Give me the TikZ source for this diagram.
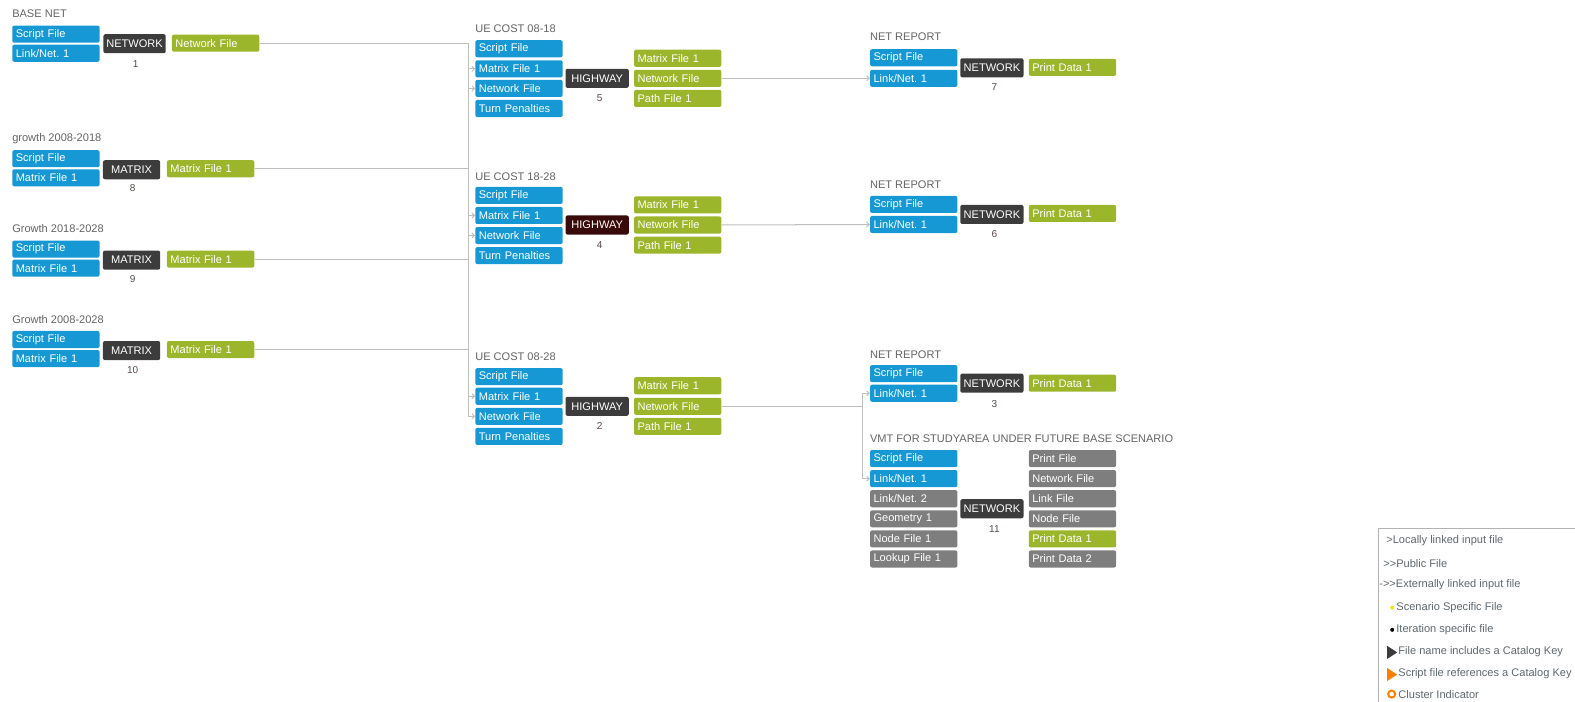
\documentclass[tikz,border=0pt]{standalone}
\usepackage{fontspec}
\setmainfont{Liberation Sans}
\usetikzlibrary{arrows.meta}

\definecolor{fileblue}{RGB}{22,152,212}
\definecolor{filegreen}{RGB}{156,182,44}
\definecolor{filegray}{RGB}{126,126,126}
\definecolor{progdark}{RGB}{60,60,60}
\definecolor{progred}{RGB}{58,10,10}
\definecolor{titlegray}{RGB}{100,100,100}
\definecolor{wiregray}{RGB}{190,190,190}
\definecolor{numcol}{RGB}{90,72,72}
\definecolor{legendtxt}{RGB}{95,104,110}

\tikzset{
  filebox/.style={anchor=west, text=white, font=\fontsize{11}{12}\selectfont,
    rounded corners=2pt, text width=80pt, inner xsep=3.5pt, inner ysep=0pt,
    minimum height=17pt, align=left},
  infile/.style={filebox, fill=fileblue},
  outfile/.style={filebox, fill=filegreen},
  idlefile/.style={filebox, fill=filegray},
  prog/.style={fill=progdark, text=white, font=\fontsize{11}{12}\selectfont,
    rounded corners=2pt, minimum height=19pt, inner xsep=1pt, inner ysep=0pt},
  grouptitle/.style={anchor=west, inner sep=0pt, text=titlegray, font=\fontsize{11}{12}\selectfont},
  runno/.style={inner sep=0pt, text=numcol, font=\fontsize{10}{11}\selectfont},
  wire/.style={wiregray, line width=1pt},
  feed/.style={wire, -{Straight Barb[length=2.5pt,width=5pt]}},
  legendtext/.style={anchor=west, inner sep=0pt, text=legendtxt, font=\fontsize{11}{12}\selectfont},
}

\begin{document}
\frenchspacing
\begin{tikzpicture}[x=1pt, y=-1pt]
    \useasboundingbox (0,0) rectangle (1568,698);
    \clip (0,0) rectangle (1568,698);

    % BASE NET
    \node[grouptitle] (bnT) at (12,14) {BASE NET};
    \node[infile] (bnS) at (12,34) {Script File};
    \node[infile] (bnL) at (12,53) {Link/Net. 1};
    \node[prog, minimum width=62pt] (bnP) at (134,43.5) {NETWORK};
    \node[runno] (bnN) at (135,64) {1};
    \node[outfile] (bnO) at (171,43) {Network File};

    % growth 2008-2018
    \node[grouptitle] (g1T) at (12,138) {growth 2008-2018};
    \node[infile] (g1S) at (12,158) {Script File};
    \node[infile] (g1M) at (12,177) {Matrix File 1};
    \node[prog, minimum width=57pt] (g1P) at (131,169) {MATRIX};
    \node[runno] (g1N) at (132,187) {8};
    \node[outfile] (g1O) at (166,168) {Matrix File 1};

    % Growth 2018-2028
    \node[grouptitle] (g2T) at (12,228) {Growth 2018-2028};
    \node[infile] (g2S) at (12,248) {Script File};
    \node[infile] (g2M) at (12,267) {Matrix File 1};
    \node[prog, minimum width=57pt] (g2P) at (131,259) {MATRIX};
    \node[runno] (g2N) at (132,278) {9};
    \node[outfile] (g2O) at (166,258) {Matrix File 1};

    % Growth 2008-2028
    \node[grouptitle] (g3T) at (12,318) {Growth 2008-2028};
    \node[infile] (g3S) at (12,338) {Script File};
    \node[infile] (g3M) at (12,357) {Matrix File 1};
    \node[prog, minimum width=57pt] (g3P) at (131,349) {MATRIX};
    \node[runno] (g3N) at (132,368) {10};
    \node[outfile] (g3O) at (166,348) {Matrix File 1};

    % UE COST 08-18
    \node[grouptitle] (u1T) at (473,29) {UE COST 08-18};
    \node[infile] (u1S) at (473,48.5) {Script File};
    \node[infile] (u1M) at (473,68.5) {Matrix File 1};
    \node[infile] (u1W) at (473,88) {Network File};
    \node[infile] (u1P) at (473,108) {Turn Penalties};
    \node[prog, minimum width=63pt] (u1H) at (594.5,78) {HIGHWAY};
    \node[runno] (u1N) at (597,98) {5};
    \node[outfile] (u1OM) at (631,58) {Matrix File 1};
    \node[outfile] (u1OW) at (631,78) {Network File};
    \node[outfile] (u1OP) at (631,98) {Path File 1};

    % UE COST 18-28
    \node[grouptitle] (u2T) at (473,176) {UE COST 18-28};
    \node[infile] (u2S) at (473,194.5) {Script File};
    \node[infile] (u2M) at (473,214.5) {Matrix File 1};
    \node[infile] (u2W) at (473,234.5) {Network File};
    \node[infile] (u2P) at (473,254.5) {Turn Penalties};
    \node[prog, fill=progred, minimum width=63pt] (u2H) at (594.5,224) {HIGHWAY};
    \node[runno] (u2N) at (597,244) {4};
    \node[outfile] (u2OM) at (631,204) {Matrix File 1};
    \node[outfile] (u2OW) at (631,224) {Network File};
    \node[outfile] (u2OP) at (631,244) {Path File 1};

    % UE COST 08-28
    \node[grouptitle] (u3T) at (473,355) {UE COST 08-28};
    \node[infile] (u3S) at (473,375) {Script File};
    \node[infile] (u3M) at (473,394.5) {Matrix File 1};
    \node[infile] (u3W) at (473,414.5) {Network File};
    \node[infile] (u3P) at (473,434.5) {Turn Penalties};
    \node[prog, minimum width=63pt] (u3H) at (594.5,404.5) {HIGHWAY};
    \node[runno] (u3N) at (597,424) {2};
    \node[outfile] (u3OM) at (631,384) {Matrix File 1};
    \node[outfile] (u3OW) at (631,404.5) {Network File};
    \node[outfile] (u3OP) at (631,424.5) {Path File 1};

    % NET REPORT 7
    \node[grouptitle] (r1T) at (866,37) {NET REPORT};
    \node[infile] (r1S) at (866,57.5) {Script File};
    \node[infile] (r1L) at (866,78) {Link/Net. 1};
    \node[prog, minimum width=63pt] (r1P) at (987.5,67.5) {NETWORK};
    \node[runno] (r1N) at (990,87) {7};
    \node[outfile] (r1O) at (1024,67) {Print Data 1};

    % NET REPORT 6
    \node[grouptitle] (r2T) at (866,184) {NET REPORT};
    \node[infile] (r2S) at (866,203.5) {Script File};
    \node[infile] (r2L) at (866,223.5) {Link/Net. 1};
    \node[prog, minimum width=63pt] (r2P) at (987.5,213.5) {NETWORK};
    \node[runno] (r2N) at (990,233) {6};
    \node[outfile] (r2O) at (1024,212.5) {Print Data 1};

    % NET REPORT 3
    \node[grouptitle] (r3T) at (866,353) {NET REPORT};
    \node[infile] (r3S) at (866,372) {Script File};
    \node[infile] (r3L) at (866,391.5) {Link/Net. 1};
    \node[prog, minimum width=63pt] (r3P) at (987.5,381.5) {NETWORK};
    \node[runno] (r3N) at (990,402) {3};
    \node[outfile] (r3O) at (1024,381.5) {Print Data 1};

    % VMT
    \node[grouptitle] (vmT) at (866,437) {VMT FOR STUDYAREA UNDER FUTURE BASE SCENARIO};
    \node[infile] (vmS) at (866,456.5) {Script File};
    \node[infile] (vmL) at (866,476.5) {Link/Net. 1};
    \node[idlefile] (vmL2) at (866,496.5) {Link/Net. 2};
    \node[idlefile] (vmG) at (866,516.5) {Geometry 1};
    \node[idlefile] (vmN1) at (866,536.5) {Node File 1};
    \node[idlefile] (vmK) at (866,556.5) {Lookup File 1};
    \node[prog, minimum width=63pt] (vmP) at (987.5,506.5) {NETWORK};
    \node[runno] (vmNo) at (990,527) {11};
    \node[idlefile] (vmO1) at (1024,456.5) {Print File};
    \node[idlefile] (vmO2) at (1024,476.5) {Network File};
    \node[idlefile] (vmO3) at (1024,496.5) {Link File};
    \node[idlefile] (vmO4) at (1024,516.5) {Node File};
    \node[outfile] (vmO5) at (1024,536.5) {Print Data 1};
    \node[idlefile] (vmO6) at (1024,556.5) {Print Data 2};

    % bus
    \coordinate (bus) at (466,0);
    \draw[wire] (bnO.east) -| (bus |- u3W.west);
    \draw[wire] (g1O.east) -- (bus |- g1O.east);
    \draw[wire] (g2O.east) -- (bus |- g2O.east);
    \draw[wire] (g3O.east) -- (bus |- g3O.east);
    \draw[feed] (bus |- u1M.west) -- (u1M.west);
    \draw[feed] (bus |- u1W.west) -- (u1W.west);
    \draw[feed] (bus |- u2M.west) -- (u2M.west);
    \draw[feed] (bus |- u2W.west) -- (u2W.west);
    \draw[feed] (bus |- u3M.west) -- (u3M.west);
    \draw[feed] (bus |- u3W.west) -- (u3W.west);

    \draw[feed] (u1OW.east) -- (r1L.west);
    \draw[feed] (u2OW.east) -- (r2L.west);
    \coordinate (split) at (859,404.5);
    \draw[wire] (u3OW.east) -- (split);
    \draw[feed] (split) |- (r3L.west);
    \draw[feed] (split) |- (vmL.west);

    % legend
    \draw[gray!60, line width=1pt] (1372,526) rectangle (1620,720);
    \node[legendtext] (lg1) at (1380,538) {>Locally linked input file};
    \node[legendtext] (lg2) at (1377,561) {>{}>Public File};
    \node[legendtext] (lg3) at (1373,582) {-{}>{}>Externally linked input file};
    \fill[yellow!85!orange] (1386,605) circle (2pt);
    \node[legendtext] (lg4) at (1390,605) {Scenario Specific File};
    \fill[black] (1386,627) circle (2pt);
    \node[legendtext] (lg5) at (1390,627) {Iteration specific file};
    \fill[progdark] (1381,643) -- (1391,649.5) -- (1381,656) -- cycle;
    \node[legendtext] (lg6) at (1392,649) {File name includes a Catalog Key};
    \fill[orange] (1381,665) -- (1391,671.5) -- (1381,678) -- cycle;
    \node[legendtext] (lg7) at (1392,671) {Script file references a Catalog Key};
    \draw[orange, line width=2pt] (1385.5,691) circle (3.5pt);
    \node[legendtext] (lg8) at (1392,691) {Cluster Indicator};
\end{tikzpicture}
\end{document}
